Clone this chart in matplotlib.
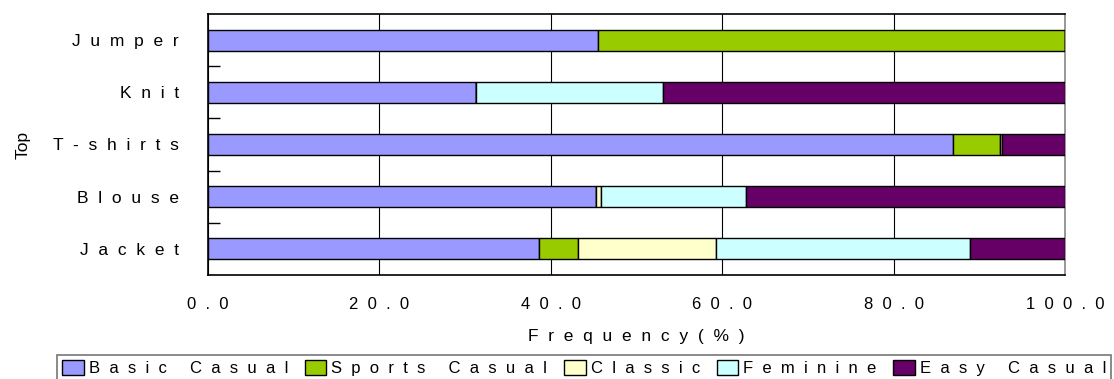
import matplotlib
matplotlib.use("Agg")
import matplotlib.pyplot as plt
import numpy as np
from matplotlib.ticker import FixedLocator

categories = ["Jacket", "Blouse", "T-shirts", "Knit", "Jumper"]
series_names = ["Basic Casual", "Sports Casual", "Classic", "Feminine", "Easy Casual"]
basic = [38.6, 45.3, 86.9, 31.3, 45.5]
sports = [4.6, 0.0, 5.5, 0.0, 54.5]
classic = [16.1, 0.5, 0.3, 0.0, 0.0]
feminine = [29.6, 17.0, 0.0, 21.8, 0.0]
easy = [11.1, 37.2, 7.3, 46.9, 0.0]
colors = ["#9999FF", "#99CC00", "#FFFFCC", "#CCFFFF", "#660066"]
xticks = [0, 20, 40, 60, 80, 100]

def spaced(s, gap="  ", word="     "):
    return word.join(gap.join(w) for w in s.split(" "))

plt.rcParams['font.family'] = ['Liberation Sans', 'DejaVu Sans']
FS = 12.5

fig = plt.figure(figsize=(11.14, 3.79), dpi=100)
ax = fig.add_axes([208/1114, 1-275/379, (1065-208)/1114, (275-14)/379])

y = np.arange(len(categories))
left = np.zeros(len(categories))
handles = []
for name, vals, c in zip(series_names, [basic, sports, classic, feminine, easy], colors):
    vals = np.array(vals)
    b = ax.barh(y, vals, left=left, height=0.4, color=c, edgecolor="black", linewidth=1.0, zorder=3)
    handles.append(b)
    left += vals

ax.set_xlim(0, 100)
ax.set_ylim(-0.5, 4.5)
ax.set_xticks(xticks)
ax.set_xticklabels([spaced(f"{v:.1f}") for v in xticks], fontsize=12)
ax.set_yticks(y)
ax.set_yticklabels([spaced(c) for c in categories], fontsize=FS)
ax.tick_params(axis='x', length=0, pad=16)
ax.tick_params(axis='y', which='major', length=0, pad=21)
ax.yaxis.set_minor_locator(FixedLocator([0.5, 1.5, 2.5, 3.5]))
ax.tick_params(axis='y', which='minor', direction='in', length=8.6, width=1, color='black')
ax.grid(axis='x', color='black', linewidth=0.8, zorder=0)
for s in ax.spines.values():
    s.set_color('black')
    s.set_linewidth(1.2)
ax.spines['right'].set_color('#888888')

ax.set_xlabel(spaced("Frequency(%)"), fontsize=FS, labelpad=12)
ax.set_ylabel("Top", fontsize=FS, labelpad=16)

leg = fig.legend(handles, [spaced(n) for n in series_names], loc='upper left',
                 bbox_to_anchor=(57/1114, 1-355/379), ncol=5, fontsize=12,
                 frameon=True, fancybox=False, handlelength=1.3, handleheight=1.0,
                 handletextpad=0.3, columnspacing=1.0, borderpad=0.3, borderaxespad=0)
leg.get_frame().set_edgecolor('#555555')
leg.get_frame().set_linewidth(1.2)

fig.savefig("out.png", dpi=100)
